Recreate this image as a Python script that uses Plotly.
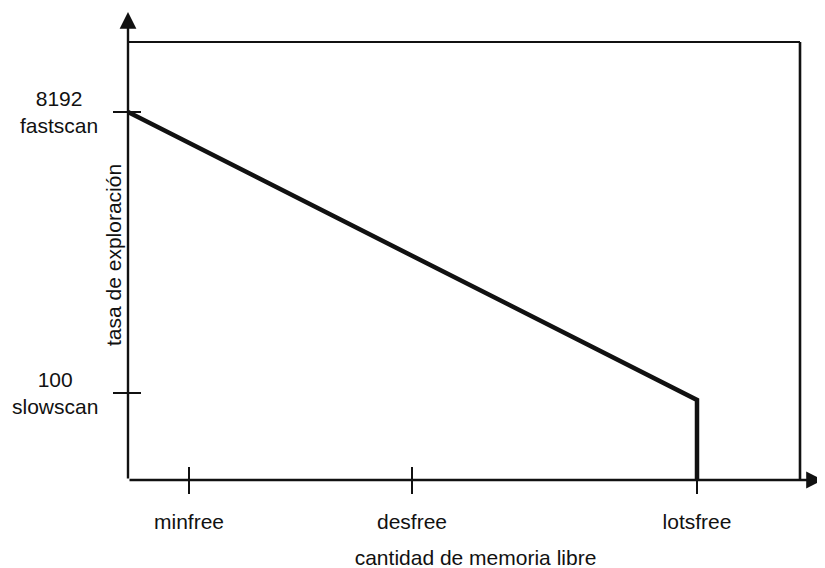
import plotly.graph_objects as go

# ---- data (schematic units) ----
mem_labels = ["minfree", "desfree", "lotsfree"]
mem_values = [61, 284, 569]

rate_labels = ["8192<br>fastscan", "100<br>slowscan"]
rate_values = [368, 87]

# scan-rate curve
curve_x = [0, 569, 569]
curve_y = [368, 80, 0]

# outer frame (top and right edges)
frame_top_x = [0, 672]
frame_top_y = [438, 438]
frame_right_x = [672, 672]
frame_right_y = [438, 0]

x_max = 695
y_max = 468

INK = "#111111"
FONT = "Liberation Sans, Arial, Helvetica, sans-serif"
FS = 21

fig = go.Figure()

fig.add_trace(go.Scatter(x=frame_top_x, y=frame_top_y, mode="lines",
                         line=dict(color=INK, width=1.8), cliponaxis=False,
                         hoverinfo="skip", showlegend=False))
fig.add_trace(go.Scatter(x=frame_right_x, y=frame_right_y, mode="lines",
                         line=dict(color=INK, width=2.6), cliponaxis=False,
                         hoverinfo="skip", showlegend=False))
fig.add_trace(go.Scatter(x=curve_x, y=curve_y, mode="lines",
                         line=dict(color=INK, width=4.5), cliponaxis=False,
                         showlegend=False))

# axis lines with arrowheads
fig.add_annotation(x=0, y=y_max, ax=0, ay=0, xref="x", yref="y", axref="x", ayref="y",
                   showarrow=True, arrowhead=2, arrowsize=1.4, arrowwidth=2.4,
                   arrowcolor=INK, text="")
fig.add_annotation(x=x_max, y=0, ax=0, ay=0, xref="x", yref="y", axref="x", ayref="y",
                   showarrow=True, arrowhead=2, arrowsize=1.4, arrowwidth=2.4,
                   arrowcolor=INK, text="")

# y tick labels, to the left of the ticks
for v, lab in zip(rate_values, rate_labels):
    fig.add_annotation(x=0, y=v, xref="x", yref="y", xanchor="right", yanchor="middle",
                       xshift=-28, text=lab, showarrow=False, align="center",
                       font=dict(family=FONT, size=FS, color=INK))

# y axis title
fig.add_annotation(x=0, y=225, xref="x", yref="y", xshift=-15, text="tasa de exploración",
                   textangle=-90, showarrow=False,
                   font=dict(family=FONT, size=FS, color=INK))

axis_common = dict(showgrid=False, zeroline=False, showline=False, automargin=False)

fig.update_layout(
    width=825, height=568,
    margin=dict(l=120, r=10, t=4, b=96, autoexpand=False),
    paper_bgcolor="white", plot_bgcolor="white",
    font=dict(family=FONT, size=FS, color=INK),
    xaxis=dict(range=[0, x_max], tickmode="array", tickvals=mem_values, ticktext=mem_labels,
               ticks="outside", ticklen=13, tickwidth=2, tickcolor=INK, ticklabelstandoff=10,
               tickfont=dict(family=FONT, size=FS, color=INK),
               title=dict(text="cantidad de memoria libre", standoff=18,
                          font=dict(family=FONT, size=FS, color=INK)),
               **axis_common),
    xaxis2=dict(range=[0, x_max], overlaying="x", matches="x", side="bottom",
                tickmode="array", tickvals=mem_values, showticklabels=False,
                ticks="inside", ticklen=13, tickwidth=2, tickcolor=INK, **axis_common),
    yaxis=dict(range=[0, y_max], tickmode="array", tickvals=rate_values, showticklabels=False,
               ticks="outside", ticklen=14, tickwidth=2, tickcolor=INK, **axis_common),
    yaxis2=dict(range=[0, y_max], overlaying="y", matches="y", side="left",
                tickmode="array", tickvals=rate_values, showticklabels=False,
                ticks="inside", ticklen=13, tickwidth=2, tickcolor=INK, **axis_common),
)

# invisible trace so the overlay axes are drawn
fig.add_trace(go.Scatter(x=[0], y=[0], xaxis="x2", yaxis="y2", mode="markers",
                         marker=dict(opacity=0), hoverinfo="skip", showlegend=False))

fig.write_html("out.html")
